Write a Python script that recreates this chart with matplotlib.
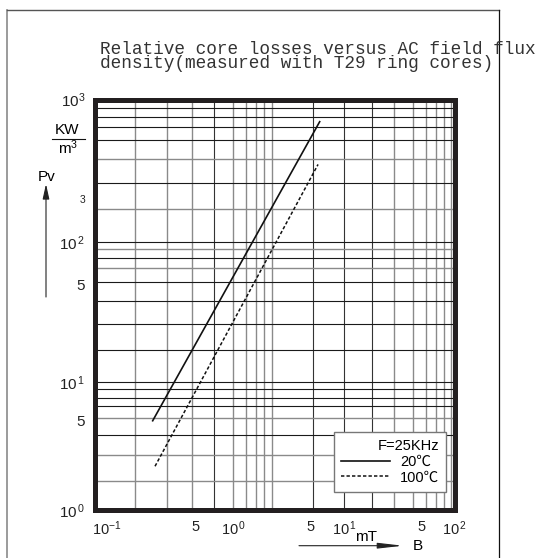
import numpy as np
import matplotlib

matplotlib.use('Agg')
import matplotlib.pyplot as plt
from matplotlib.lines import Line2D

W, H = 539, 558

# core loss curves, F = 25 kHz
b_20 = [0.23, 6.0]
pv_20 = [5, 700]
b_100 = [0.24, 5.8]
pv_100 = [2.2, 350]

x_ticks = [0.1, 0.5, 1, 5, 10, 50, 100]
x_tick_labels = [r'$10^{-1}$', '5', r'$10^{\,0}$', '5', r'$10^{\,1}$', '5', r'$10^{\,2}$']
y_ticks = [1, 5, 10, 50, 100, 200, 1000]
y_tick_labels = [r'$10^{\,0}$', '5', r'$10^{\,1}$', '5', r'$10^{\,2}$', '3', r'$10^{3}$']

# ruled grid of the sheet
x_grid_dark = [0.708, 5.2, 10, 17.7]
x_grid_light = [0.167, 0.297, 0.4735, 1, 1.29, 1.59, 1.9, 2.22, 28, 42, 55.5, 68.4, 80, 93.4]
y_grid_dark = [875, 755, 640, 520, 260, 100, 76, 52, 38, 26, 17, 10, 8.9, 7.6, 6.5, 3.85]
y_grid_light = [380, 170, 89, 65, 5.25, 2.7, 1.7]

plt.rcParams['font.family'] = ['Liberation Sans', 'Noto Sans CJK SC', 'DejaVu Sans']
plt.rcParams['mathtext.fontset'] = 'custom'
plt.rcParams['mathtext.rm'] = 'Liberation Sans'
plt.rcParams['mathtext.it'] = 'Liberation Sans:italic'
plt.rcParams['mathtext.bf'] = 'Liberation Sans:bold'


def log_pieces(knot_log, knot_pos):
    # decades of the printed sheet are not all the same length
    def fwd(v):
        v = np.asarray(v, dtype=float)
        return np.interp(np.log10(np.clip(v, 1e-9, None)), knot_log, knot_pos)

    def inv(t):
        return 10 ** np.interp(np.asarray(t, dtype=float), knot_pos, knot_log)
    return fwd, inv


def px(x, y):
    return x / W, 1 - y / H


fig = plt.figure(figsize=(W / 100, H / 100), dpi=100)
ax = fig.add_axes([95 / W, 1 - 510 / H, 359.5 / W, 410.3 / H])

ax.set_xscale('function', functions=log_pieces([-1.095, 0, 1, 2], [0, 0.3847, 0.6935, 1.0]))
ax.set_yscale('function', functions=log_pieces([0, 1, 2, 3], [0, 0.3112, 0.6539, 1.0]))
ax.set_xlim(10 ** -1.095, 100)
ax.set_ylim(1, 1000)

ax.vlines(x_grid_light, 1, 1000, colors='#8a8a8a', lw=1.0, zorder=1)
ax.vlines(x_grid_dark, 1, 1000, colors='#333333', lw=0.8, zorder=1)
ax.hlines(y_grid_light, 10 ** -1.095, 100, colors='#8a8a8a', lw=1.0, zorder=1)
ax.hlines(y_grid_dark, 10 ** -1.095, 100, colors='#1a1a1a', lw=0.8, zorder=1)

ax.plot(b_20, pv_20, color='#111111', lw=1.2, zorder=3, label='20℃')
ax.plot(b_100, pv_100, color='#111111', lw=1.1, ls=(0, (2.2, 1.4)), zorder=3, label='100℃')

for s in ax.spines.values():
    s.set_linewidth(3.6)
    s.set_color('#231f20')

ax.set_xticks(x_ticks, x_tick_labels)
ax.set_yticks(y_ticks, y_tick_labels)
ax.minorticks_off()
ax.tick_params(axis='x', length=0, pad=7, labelsize=10.5, colors='#222222')
ax.tick_params(axis='y', length=0, pad=7, labelsize=11, colors='#222222')
ax.get_yticklabels()[5].set_fontsize(7.5)

leg = ax.legend(title='F=25KHz', loc='lower right', bbox_to_anchor=(0.9775, 0.0446),
                borderaxespad=0, fontsize=10.5, title_fontsize=10.5, frameon=True,
                fancybox=False, edgecolor='#777777', framealpha=1, handlelength=3.4,
                handletextpad=0.65, borderpad=0.5, labelspacing=0.1, alignment='right')
leg.get_frame().set_linewidth(1.0)
leg.set_zorder(5)

# title
fig.text(*px(100, 68.3), 'Relative core losses versus AC field flux\n'
         'density(measured with T29 ring cores)', family='Liberation Mono',
         size=12.8, color='#333333', va='baseline', linespacing=0.78)

# y axis quantity
fig.text(*px(67.5, 130), 'KW', size=11, ha='center', va='center')
fig.add_artist(Line2D([52 / W, 85 / W], [1 - 139.3 / H] * 2, color='#111111', lw=0.8))
fig.text(*px(68, 148), r'$\mathregular{m^3}$', size=11, ha='center', va='center')
fig.text(*px(47, 177), 'Pv', size=11, ha='center', va='center')
ax.annotate('', xy=px(46, 184), xytext=px(46, 297), xycoords='figure fraction',
            textcoords='figure fraction',
            arrowprops=dict(arrowstyle='-|>,head_length=0.9,head_width=0.2', color='#222222',
                            lw=0.8, mutation_scale=10, shrinkA=0, shrinkB=0))

# x axis quantity
fig.text(*px(366, 537), 'mT', size=11, ha='center', va='center')
fig.text(*px(417.5, 546), 'B', size=11, ha='center', va='center')
ax.annotate('', xy=px(403, 545.7), xytext=px(299, 545.7), xycoords='figure fraction',
            textcoords='figure fraction',
            arrowprops=dict(arrowstyle='-|>,head_length=1.5,head_width=0.17', color='#222222',
                            lw=0.8, mutation_scale=10, shrinkA=0, shrinkB=0))

# sheet frame
fig.add_artist(Line2D([7 / W, 7 / W], [0, 1 - 10 / H], color='#8a8a8a', lw=1.2))
fig.add_artist(Line2D([7 / W, 499 / W], [1 - 10 / H] * 2, color='#555555', lw=1.0))
fig.add_artist(Line2D([499 / W, 499 / W], [0, 1 - 10 / H], color='#111111', lw=0.9))

plt.savefig('out.png', dpi=100)
